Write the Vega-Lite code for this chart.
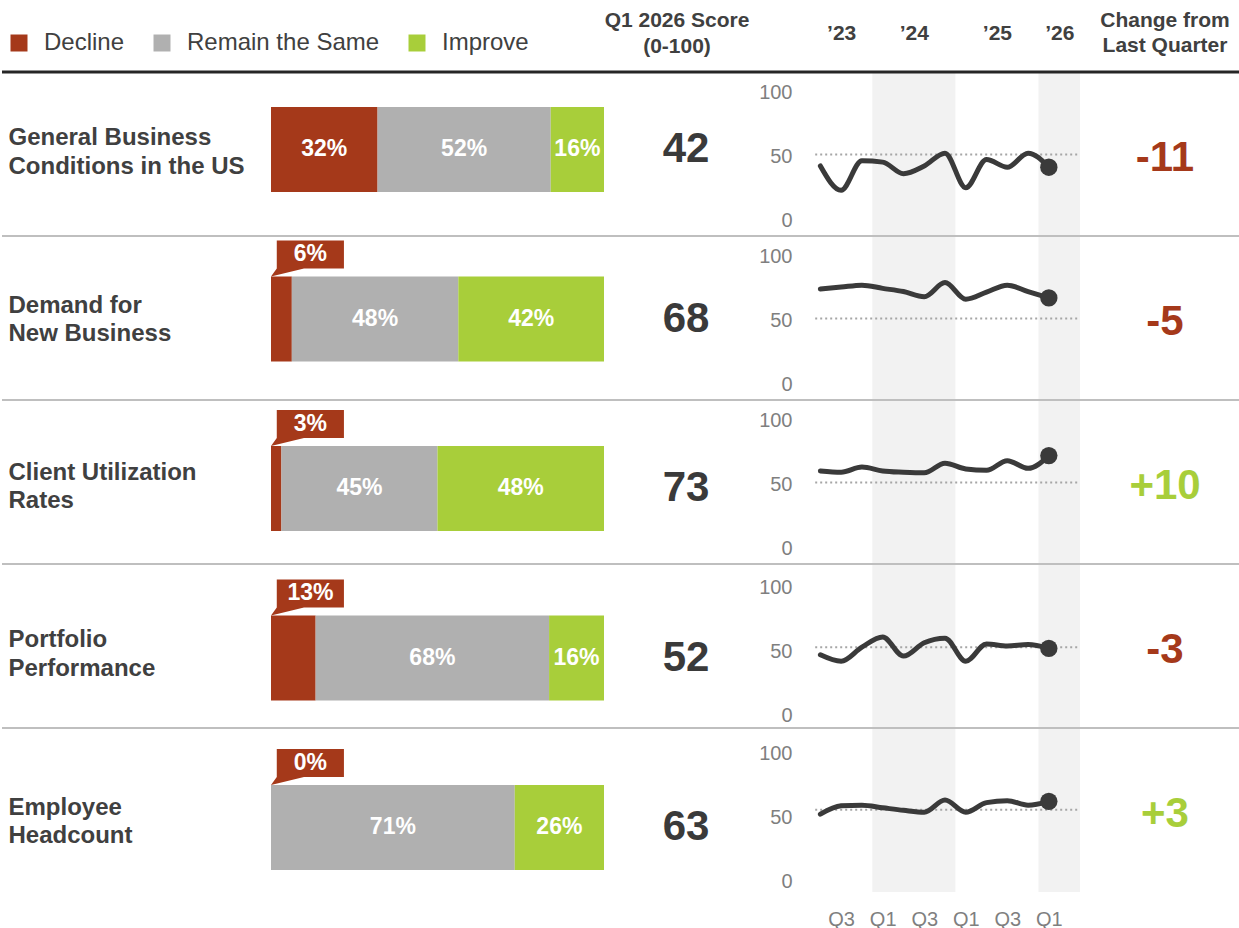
{
  "$schema": "https://vega.github.io/schema/vega-lite/v6.json",
  "padding": 0,
  "background": "white",
  "config": {
    "view": {"stroke": null},
    "font": "Liberation Sans",
    "text": {"font": "Liberation Sans"},
    "axis": {"labelFont": "Liberation Sans", "grid": false, "domain": false, "ticks": false},
    "legend": {"labelFont": "Liberation Sans"}
  },
  "datasets": {
    "metrics": [
      {"row": 1, "metric": "General Business\nConditions in the US", "score": 42, "change": "-11", "avg": 52},
      {"row": 2, "metric": "Demand for\nNew Business", "score": 68, "change": "-5", "avg": 52},
      {"row": 3, "metric": "Client Utilization\nRates", "score": 73, "change": "+10", "avg": 52},
      {"row": 4, "metric": "Portfolio\nPerformance", "score": 52, "change": "-3", "avg": 53},
      {"row": 5, "metric": "Employee\nHeadcount", "score": 63, "change": "+3", "avg": 56.5}
    ],
    "responses": [
      {"row": 1, "response": "Decline", "k": 1, "pct": 0.32},
      {"row": 1, "response": "Remain the Same", "k": 2, "pct": 0.52},
      {"row": 1, "response": "Improve", "k": 3, "pct": 0.16},
      {"row": 2, "response": "Decline", "k": 1, "pct": 0.06},
      {"row": 2, "response": "Remain the Same", "k": 2, "pct": 0.48},
      {"row": 2, "response": "Improve", "k": 3, "pct": 0.42},
      {"row": 3, "response": "Decline", "k": 1, "pct": 0.03},
      {"row": 3, "response": "Remain the Same", "k": 2, "pct": 0.45},
      {"row": 3, "response": "Improve", "k": 3, "pct": 0.48},
      {"row": 4, "response": "Decline", "k": 1, "pct": 0.13},
      {"row": 4, "response": "Remain the Same", "k": 2, "pct": 0.68},
      {"row": 4, "response": "Improve", "k": 3, "pct": 0.16},
      {"row": 5, "response": "Decline", "k": 1, "pct": 0.0},
      {"row": 5, "response": "Remain the Same", "k": 2, "pct": 0.71},
      {"row": 5, "response": "Improve", "k": 3, "pct": 0.26}
    ],
    "bands": [
      {"from": 2.5, "to": 6.5},
      {"from": 10.5, "to": 12.5}
    ],
    "series": [
      {"row": 1, "q": 0, "v": 43}, {"row": 1, "q": 1, "v": 24}, {"row": 1, "q": 2, "v": 47}, {"row": 1, "q": 3, "v": 46},
      {"row": 1, "q": 4, "v": 37}, {"row": 1, "q": 5, "v": 43}, {"row": 1, "q": 6, "v": 53}, {"row": 1, "q": 7, "v": 26},
      {"row": 1, "q": 8, "v": 48}, {"row": 1, "q": 9, "v": 42}, {"row": 1, "q": 10, "v": 53}, {"row": 1, "q": 11, "v": 42},
      {"row": 2, "q": 0, "v": 75}, {"row": 2, "q": 1, "v": 76.5}, {"row": 2, "q": 2, "v": 78}, {"row": 2, "q": 3, "v": 75.5},
      {"row": 2, "q": 4, "v": 73}, {"row": 2, "q": 5, "v": 69}, {"row": 2, "q": 6, "v": 80}, {"row": 2, "q": 7, "v": 67},
      {"row": 2, "q": 8, "v": 72.5}, {"row": 2, "q": 9, "v": 78}, {"row": 2, "q": 10, "v": 73}, {"row": 2, "q": 11, "v": 68},
      {"row": 3, "q": 0, "v": 61}, {"row": 3, "q": 1, "v": 60}, {"row": 3, "q": 2, "v": 64}, {"row": 3, "q": 3, "v": 61},
      {"row": 3, "q": 4, "v": 60}, {"row": 3, "q": 5, "v": 59.5}, {"row": 3, "q": 6, "v": 67}, {"row": 3, "q": 7, "v": 62.5},
      {"row": 3, "q": 8, "v": 61.5}, {"row": 3, "q": 9, "v": 69}, {"row": 3, "q": 10, "v": 63}, {"row": 3, "q": 11, "v": 73},
      {"row": 4, "q": 0, "v": 47}, {"row": 4, "q": 1, "v": 42}, {"row": 4, "q": 2, "v": 53}, {"row": 4, "q": 3, "v": 61},
      {"row": 4, "q": 4, "v": 46}, {"row": 4, "q": 5, "v": 56.5}, {"row": 4, "q": 6, "v": 60}, {"row": 4, "q": 7, "v": 42},
      {"row": 4, "q": 8, "v": 55.5}, {"row": 4, "q": 9, "v": 54}, {"row": 4, "q": 10, "v": 55}, {"row": 4, "q": 11, "v": 52},
      {"row": 5, "q": 0, "v": 53}, {"row": 5, "q": 1, "v": 59.5}, {"row": 5, "q": 2, "v": 60}, {"row": 5, "q": 3, "v": 58},
      {"row": 5, "q": 4, "v": 56}, {"row": 5, "q": 5, "v": 54.5}, {"row": 5, "q": 6, "v": 64}, {"row": 5, "q": 7, "v": 54.5},
      {"row": 5, "q": 8, "v": 62}, {"row": 5, "q": 9, "v": 63.5}, {"row": 5, "q": 10, "v": 60}, {"row": 5, "q": 11, "v": 63}
    ]
  },
  "spacing": 0,
  "vconcat": [
    {
      "spacing": 0,
      "bounds": "flush",
      "hconcat": [
        {"width": 588, "height": 70, "data": {"values": [{"t": ""}]}, "mark": "text", "encoding": {"text": {"field": "t"}}},
        {"width": 174, "height": 70, "data": {"values": [{"t": "Q1 2026 Score\n(0-100)"}]},
         "mark": {"type": "text", "fontSize": 21, "fontWeight": "bold", "color": "#404040", "lineBreak": "\n", "lineHeight": 26, "baseline": "middle", "dy": -14},
         "encoding": {"text": {"field": "t"}}},
        {"width": 46, "height": 70, "data": {"values": [{"t": ""}]}, "mark": "text", "encoding": {"text": {"field": "t"}}},
        {"width": 281, "height": 70, "data": {"values": [{"t": ""}]},
         "mark": {"type": "point", "opacity": 0},
         "encoding": {
           "x": {"datum": 0, "type": "quantitative", "scale": {"domain": [-0.5, 13.03], "nice": false, "zero": false},
                 "axis": {"orient": "bottom", "title": null, "values": [1, 4.5, 8.5, 11.5], "labelExpr": "'’' + (23 + floor((datum.value + 1) / 4))",
                          "labelFontSize": 21, "labelFontWeight": "bold", "labelColor": "#404040", "labelPadding": -37, "labelBaseline": "middle",
                          "labelFlush": false, "labelOverlap": false, "domain": false, "ticks": false, "grid": false}}}},
        {"width": 148, "height": 70, "data": {"values": [{"t": "Change from\nLast Quarter"}]},
         "mark": {"type": "text", "fontSize": 21, "fontWeight": "bold", "color": "#404040", "lineBreak": "\n", "lineHeight": 25, "baseline": "middle", "dy": -14.5},
         "encoding": {"text": {"field": "t"}}}
      ]
    },
    {
      "spacing": 0,
      "bounds": "flush",
      "hconcat": [
        {
          "width": 269, "height": 820,
          "resolve": {"scale": {"y": "independent"}},
          "layer": [
            {"data": {"name": "metrics"}, "mark": "rule",
             "encoding": {
               "y": {"field": "row", "type": "ordinal", "bandPosition": 0, "scale": {"type": "band", "paddingInner": 0, "paddingOuter": 0}, "axis": null},
               "color": {"condition": {"test": "datum.row === 1", "value": "#262626"}, "value": "#bfbfbf"},
               "strokeWidth": {"condition": {"test": "datum.row === 1", "value": 3}, "value": 2}}},
            {"data": {"name": "metrics"}, "mark": {"type": "point", "opacity": 0},
             "encoding": {
               "y": {"field": "metric", "type": "nominal", "sort": null,
                     "scale": {"type": "band", "paddingInner": 0.5, "paddingOuter": 0.1992, "align": 0.578},
                     "axis": {"orient": "left", "title": null, "labelAlign": "left", "labelPadding": -6, "labelOffset": -14.25, "labelExpr": "split(datum.label, '\\n')",
                              "labelFontSize": 24, "labelFontWeight": "bold", "labelColor": "#404040", "labelLineHeight": 28.5,
                              "labelLimit": 0, "labelBaseline": "middle", "domain": false, "ticks": false, "grid": false}}}}
          ]
        },
        {
          "width": 333, "height": 820,
          "resolve": {"scale": {"y": "independent"}},
          "layer": [
            {"data": {"name": "metrics"}, "mark": "rule",
             "encoding": {
               "y": {"field": "row", "type": "ordinal", "bandPosition": 0, "scale": {"type": "band", "paddingInner": 0, "paddingOuter": 0}, "axis": null},
               "color": {"condition": {"test": "datum.row === 1", "value": "#262626"}, "value": "#bfbfbf"},
               "strokeWidth": {"condition": {"test": "datum.row === 1", "value": 3}, "value": 2}}},
            {
              "data": {"name": "responses"},
              "encoding": {
                "y": {"field": "row", "type": "ordinal", "scale": {"type": "band", "paddingInner": 0.49853, "paddingOuter": 0.16814, "align": 0.614}, "axis": null}
              },
              "layer": [
                {"mark": {"type": "bar"},
                 "encoding": {
                   "x": {"field": "pct", "type": "quantitative", "stack": "normalize", "axis": null},
                   "order": {"field": "k", "type": "quantitative"},
                   "color": {"field": "response", "type": "nominal",
                             "scale": {"domain": ["Decline", "Remain the Same", "Improve"], "range": ["#A5391A", "#B0B0B0", "#A8CE3A"]},
                             "legend": {"orient": "none", "legendX": 5, "legendY": 31, "direction": "horizontal", "title": null,
                                        "symbolType": "square", "symbolSize": 289, "symbolStrokeWidth": 0, "symbolOpacity": 1,
                                        "labelFontSize": 24, "labelColor": "#404040", "labelOffset": 13, "columnPadding": 25, "labelLimit": 0}}}},
                {"mark": {"type": "text", "color": "white", "fontSize": 23, "fontWeight": "bold", "baseline": "middle"},
                 "encoding": {
                   "x": {"field": "pct", "type": "quantitative", "stack": "normalize", "bandPosition": 0.5, "axis": null},
                   "detail": {"field": "response"},
                   "order": {"field": "k", "type": "quantitative"},
                   "text": {"condition": {"test": "datum.response === 'Decline' && datum.pct < 0.2", "value": ""}, "field": "pct", "type": "quantitative", "format": ".0%"}}},
                {"transform": [{"filter": "datum.response === 'Decline' && datum.pct < 0.2"}],
                 "mark": {"type": "point", "shape": "M0,0L0.35,-0.49L0.35,-2.18L4.42,-2.18L4.42,-0.49L2,-0.49Z", "size": 1089, "filled": true, "color": "#A5391A", "opacity": 1, "strokeWidth": 0},
                 "encoding": {
                   "x": {"datum": 0, "type": "quantitative", "axis": null},
                   "y": {"field": "row", "type": "ordinal", "bandPosition": 0, "axis": null}}},
                {"transform": [{"filter": "datum.response === 'Decline' && datum.pct < 0.2"}],
                 "mark": {"type": "text", "color": "white", "fontSize": 23, "fontWeight": "bold", "baseline": "middle", "dx": 39.4, "dy": -22},
                 "encoding": {
                   "x": {"datum": 0, "type": "quantitative", "axis": null},
                   "y": {"field": "row", "type": "ordinal", "bandPosition": 0, "axis": null},
                   "text": {"field": "pct", "type": "quantitative", "format": ".0%"}}}
              ]
            }
          ]
        },
        {
          "width": 164, "height": 820,
          "resolve": {"scale": {"y": "independent"}},
          "layer": [
            {"data": {"name": "metrics"}, "mark": "rule",
             "encoding": {
               "y": {"field": "row", "type": "ordinal", "bandPosition": 0, "scale": {"type": "band", "paddingInner": 0, "paddingOuter": 0}, "axis": null},
               "color": {"condition": {"test": "datum.row === 1", "value": "#262626"}, "value": "#bfbfbf"},
               "strokeWidth": {"condition": {"test": "datum.row === 1", "value": 3}, "value": 2}}},
            {"data": {"name": "metrics"}, "mark": {"type": "text", "fontSize": 42, "fontWeight": "bold", "color": "#3a3a3a", "baseline": "middle"},
             "encoding": {
               "y": {"field": "row", "type": "ordinal", "scale": {"type": "band", "paddingInner": 0.49853, "paddingOuter": 0.16814, "align": 0.614}, "axis": null},
               "text": {"field": "score", "type": "quantitative"}}}
          ]
        },
        {
          "width": 42, "height": 820,
          "data": {"name": "metrics"}, "mark": "rule",
          "encoding": {
            "y": {"field": "row", "type": "ordinal", "bandPosition": 0, "scale": {"type": "band", "paddingInner": 0, "paddingOuter": 0}, "axis": null},
            "color": {"condition": {"test": "datum.row === 1", "value": "#262626"}, "value": "#bfbfbf"},
            "strokeWidth": {"condition": {"test": "datum.row === 1", "value": 3}, "value": 2}}
        },
        {
          "width": 281, "height": 820,
          "resolve": {"scale": {"y": "independent"}},
          "layer": [
            {"data": {"name": "bands"}, "mark": {"type": "rect", "color": "#f2f2f2"},
             "encoding": {"x": {"field": "from", "type": "quantitative", "scale": {"domain": [-0.5, 13.03], "nice": false, "zero": false}}, "x2": {"field": "to"}}},

            {"data": {"name": "metrics"}, "transform": [{"filter": "datum.row === 1"}], "mark": {"type": "rule", "color": "#bfbfbf", "strokeWidth": 2},
             "encoding": {"y": {"datum": -11.719, "type": "quantitative", "scale": {"domain": [-524.219, 116.406], "nice": false, "zero": false}, "axis": null}}},
            {"data": {"name": "metrics"}, "transform": [{"filter": "datum.row === 1"}], "mark": {"type": "rule", "color": "#262626", "strokeWidth": 3},
             "encoding": {"y": {"datum": 116.406, "type": "quantitative", "scale": {"domain": [-524.219, 116.406], "nice": false, "zero": false}, "axis": null}}},
            {"data": {"name": "metrics"}, "transform": [{"filter": "datum.row === 1"}], "mark": {"type": "rule", "color": "#a6a6a6", "strokeWidth": 2, "strokeDash": [2, 3]},
             "encoding": {"x": {"datum": -0.25, "type": "quantitative", "scale": {"domain": [-0.5, 13.03], "nice": false, "zero": false}}, "x2": {"datum": 12.5},
                          "y": {"field": "avg", "type": "quantitative", "scale": {"domain": [-524.219, 116.406], "nice": false, "zero": false}, "axis": null}}},
            {"data": {"name": "series"}, "transform": [{"filter": "datum.row === 1"}],
             "mark": {"type": "line", "color": "#3a3a3a", "strokeWidth": 5, "interpolate": "monotone", "strokeCap": "round", "strokeJoin": "round"},
             "encoding": {
               "x": {"field": "q", "type": "quantitative", "scale": {"domain": [-0.5, 13.03], "nice": false, "zero": false}},
               "y": {"field": "v", "type": "quantitative", "scale": {"domain": [-524.219, 116.406], "nice": false, "zero": false},
                     "axis": {"orient": "left", "title": null, "values": [0, 50, 100], "labelFontSize": 20, "labelColor": "#7f7f7f", "labelPadding": 18, "labelFlush": false, "domain": false, "ticks": false, "grid": false}}}},
            {"data": {"name": "series"}, "transform": [{"filter": "datum.row === 1 && datum.q === 11"}],
             "mark": {"type": "point", "filled": true, "size": 300, "color": "#3a3a3a", "opacity": 1},
             "encoding": {"x": {"field": "q", "type": "quantitative", "scale": {"domain": [-0.5, 13.03], "nice": false, "zero": false}},
                          "y": {"field": "v", "type": "quantitative", "scale": {"domain": [-524.219, 116.406], "nice": false, "zero": false}, "axis": null}}},

            {"data": {"name": "metrics"}, "transform": [{"filter": "datum.row === 2"}], "mark": {"type": "rule", "color": "#bfbfbf", "strokeWidth": 2},
             "encoding": {"y": {"datum": -11.719, "type": "quantitative", "scale": {"domain": [-396.094, 244.531], "nice": false, "zero": false}, "axis": null}}},
            {"data": {"name": "metrics"}, "transform": [{"filter": "datum.row === 2"}], "mark": {"type": "rule", "color": "#a6a6a6", "strokeWidth": 2, "strokeDash": [2, 3]},
             "encoding": {"x": {"datum": -0.25, "type": "quantitative", "scale": {"domain": [-0.5, 13.03], "nice": false, "zero": false}}, "x2": {"datum": 12.5},
                          "y": {"field": "avg", "type": "quantitative", "scale": {"domain": [-396.094, 244.531], "nice": false, "zero": false}, "axis": null}}},
            {"data": {"name": "series"}, "transform": [{"filter": "datum.row === 2"}],
             "mark": {"type": "line", "color": "#3a3a3a", "strokeWidth": 5, "interpolate": "monotone", "strokeCap": "round", "strokeJoin": "round"},
             "encoding": {
               "x": {"field": "q", "type": "quantitative", "scale": {"domain": [-0.5, 13.03], "nice": false, "zero": false}},
               "y": {"field": "v", "type": "quantitative", "scale": {"domain": [-396.094, 244.531], "nice": false, "zero": false},
                     "axis": {"orient": "left", "title": null, "values": [0, 50, 100], "labelFontSize": 20, "labelColor": "#7f7f7f", "labelPadding": 18, "labelFlush": false, "domain": false, "ticks": false, "grid": false}}}},
            {"data": {"name": "series"}, "transform": [{"filter": "datum.row === 2 && datum.q === 11"}],
             "mark": {"type": "point", "filled": true, "size": 300, "color": "#3a3a3a", "opacity": 1},
             "encoding": {"x": {"field": "q", "type": "quantitative", "scale": {"domain": [-0.5, 13.03], "nice": false, "zero": false}},
                          "y": {"field": "v", "type": "quantitative", "scale": {"domain": [-396.094, 244.531], "nice": false, "zero": false}, "axis": null}}},

            {"data": {"name": "metrics"}, "transform": [{"filter": "datum.row === 3"}], "mark": {"type": "rule", "color": "#bfbfbf", "strokeWidth": 2},
             "encoding": {"y": {"datum": -11.719, "type": "quantitative", "scale": {"domain": [-267.969, 372.656], "nice": false, "zero": false}, "axis": null}}},
            {"data": {"name": "metrics"}, "transform": [{"filter": "datum.row === 3"}], "mark": {"type": "rule", "color": "#a6a6a6", "strokeWidth": 2, "strokeDash": [2, 3]},
             "encoding": {"x": {"datum": -0.25, "type": "quantitative", "scale": {"domain": [-0.5, 13.03], "nice": false, "zero": false}}, "x2": {"datum": 12.5},
                          "y": {"field": "avg", "type": "quantitative", "scale": {"domain": [-267.969, 372.656], "nice": false, "zero": false}, "axis": null}}},
            {"data": {"name": "series"}, "transform": [{"filter": "datum.row === 3"}],
             "mark": {"type": "line", "color": "#3a3a3a", "strokeWidth": 5, "interpolate": "monotone", "strokeCap": "round", "strokeJoin": "round"},
             "encoding": {
               "x": {"field": "q", "type": "quantitative", "scale": {"domain": [-0.5, 13.03], "nice": false, "zero": false}},
               "y": {"field": "v", "type": "quantitative", "scale": {"domain": [-267.969, 372.656], "nice": false, "zero": false},
                     "axis": {"orient": "left", "title": null, "values": [0, 50, 100], "labelFontSize": 20, "labelColor": "#7f7f7f", "labelPadding": 18, "labelFlush": false, "domain": false, "ticks": false, "grid": false}}}},
            {"data": {"name": "series"}, "transform": [{"filter": "datum.row === 3 && datum.q === 11"}],
             "mark": {"type": "point", "filled": true, "size": 300, "color": "#3a3a3a", "opacity": 1},
             "encoding": {"x": {"field": "q", "type": "quantitative", "scale": {"domain": [-0.5, 13.03], "nice": false, "zero": false}},
                          "y": {"field": "v", "type": "quantitative", "scale": {"domain": [-267.969, 372.656], "nice": false, "zero": false}, "axis": null}}},

            {"data": {"name": "metrics"}, "transform": [{"filter": "datum.row === 4"}], "mark": {"type": "rule", "color": "#bfbfbf", "strokeWidth": 2},
             "encoding": {"y": {"datum": -10.156, "type": "quantitative", "scale": {"domain": [-138.281, 502.344], "nice": false, "zero": false}, "axis": null}}},
            {"data": {"name": "metrics"}, "transform": [{"filter": "datum.row === 4"}], "mark": {"type": "rule", "color": "#a6a6a6", "strokeWidth": 2, "strokeDash": [2, 3]},
             "encoding": {"x": {"datum": -0.25, "type": "quantitative", "scale": {"domain": [-0.5, 13.03], "nice": false, "zero": false}}, "x2": {"datum": 12.5},
                          "y": {"field": "avg", "type": "quantitative", "scale": {"domain": [-138.281, 502.344], "nice": false, "zero": false}, "axis": null}}},
            {"data": {"name": "series"}, "transform": [{"filter": "datum.row === 4"}],
             "mark": {"type": "line", "color": "#3a3a3a", "strokeWidth": 5, "interpolate": "monotone", "strokeCap": "round", "strokeJoin": "round"},
             "encoding": {
               "x": {"field": "q", "type": "quantitative", "scale": {"domain": [-0.5, 13.03], "nice": false, "zero": false}},
               "y": {"field": "v", "type": "quantitative", "scale": {"domain": [-138.281, 502.344], "nice": false, "zero": false},
                     "axis": {"orient": "left", "title": null, "values": [0, 50, 100], "labelFontSize": 20, "labelColor": "#7f7f7f", "labelPadding": 18, "labelFlush": false, "domain": false, "ticks": false, "grid": false}}}},
            {"data": {"name": "series"}, "transform": [{"filter": "datum.row === 4 && datum.q === 11"}],
             "mark": {"type": "point", "filled": true, "size": 300, "color": "#3a3a3a", "opacity": 1},
             "encoding": {"x": {"field": "q", "type": "quantitative", "scale": {"domain": [-0.5, 13.03], "nice": false, "zero": false}},
                          "y": {"field": "v", "type": "quantitative", "scale": {"domain": [-138.281, 502.344], "nice": false, "zero": false}, "axis": null}}},

            {"data": {"name": "metrics"}, "transform": [{"filter": "datum.row === 5"}], "mark": {"type": "rule", "color": "#a6a6a6", "strokeWidth": 2, "strokeDash": [2, 3]},
             "encoding": {"x": {"datum": -0.25, "type": "quantitative", "scale": {"domain": [-0.5, 13.03], "nice": false, "zero": false}}, "x2": {"datum": 12.5},
                          "y": {"field": "avg", "type": "quantitative", "scale": {"domain": [-7.813, 632.813], "nice": false, "zero": false}, "axis": null}}},
            {"data": {"name": "series"}, "transform": [{"filter": "datum.row === 5"}],
             "mark": {"type": "line", "color": "#3a3a3a", "strokeWidth": 5, "interpolate": "monotone", "strokeCap": "round", "strokeJoin": "round"},
             "encoding": {
               "x": {"field": "q", "type": "quantitative", "scale": {"domain": [-0.5, 13.03], "nice": false, "zero": false},
                     "axis": {"orient": "bottom", "title": null, "values": [1, 3, 5, 7, 9, 11], "labelExpr": "'Q' + ((datum.value + 1) % 4 + 1)",
                              "labelFontSize": 20, "labelColor": "#7f7f7f", "labelPadding": 27, "labelBaseline": "middle",
                              "labelFlush": false, "labelOverlap": false, "domain": false, "ticks": false, "grid": false}},
               "y": {"field": "v", "type": "quantitative", "scale": {"domain": [-7.813, 632.813], "nice": false, "zero": false},
                     "axis": {"orient": "left", "title": null, "values": [0, 50, 100], "labelFontSize": 20, "labelColor": "#7f7f7f", "labelPadding": 18, "labelFlush": false, "domain": false, "ticks": false, "grid": false}}}},
            {"data": {"name": "series"}, "transform": [{"filter": "datum.row === 5 && datum.q === 11"}],
             "mark": {"type": "point", "filled": true, "size": 300, "color": "#3a3a3a", "opacity": 1},
             "encoding": {"x": {"field": "q", "type": "quantitative", "scale": {"domain": [-0.5, 13.03], "nice": false, "zero": false}},
                          "y": {"field": "v", "type": "quantitative", "scale": {"domain": [-7.813, 632.813], "nice": false, "zero": false}, "axis": null}}}
          ]
        },
        {
          "width": 148, "height": 820,
          "data": {"name": "metrics"},
          "encoding": {
            "y": {"field": "row", "type": "ordinal", "scale": {"type": "band", "paddingInner": 0, "paddingOuter": 0}, "axis": null}
          },
          "layer": [
            {"mark": "rule",
             "encoding": {
               "y": {"field": "row", "type": "ordinal", "bandPosition": 0, "axis": null},
               "color": {"condition": {"test": "datum.row === 1", "value": "#262626"}, "value": "#bfbfbf"},
               "strokeWidth": {"condition": {"test": "datum.row === 1", "value": 3}, "value": 2}}},
            {"mark": {"type": "text", "fontSize": 42, "fontWeight": "bold", "baseline": "middle", "dy": 4},
             "encoding": {
               "text": {"field": "change"},
               "color": {"condition": {"test": "toNumber(datum.change) > 0", "value": "#A8CE3A"}, "value": "#A5391A"}}}
          ]
        }
      ]
    }
  ]
}
